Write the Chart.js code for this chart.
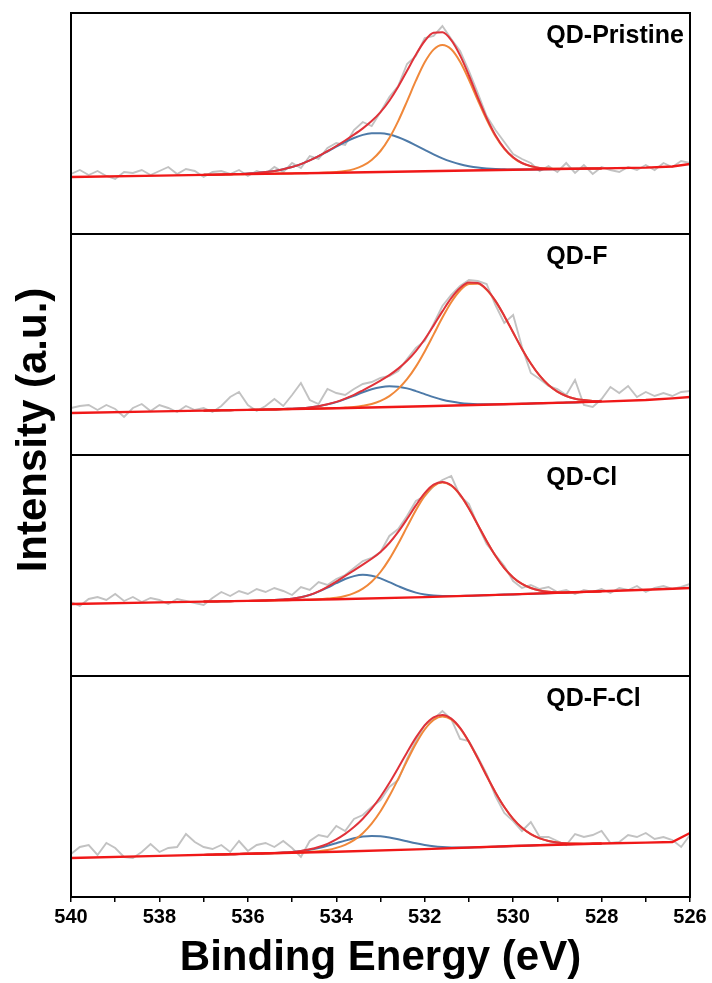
<!DOCTYPE html>
<html>
<head>
<meta charset="utf-8">
<title>O 1s XPS fits</title>
<script src="https://cdn.jsdelivr.net/npm/chart.js@4.4.1/dist/chart.umd.min.js"></script>
<style>
  html, body { margin: 0; padding: 0; background: #fff; }
  #wrap { width: 712px; height: 983px; }
</style>
</head>
<body>
<div id="wrap"><canvas id="xps" width="712" height="983"></canvas></div>
<script>
// binding energy grids (eV)
const scanE = [540.0,539.8,539.6,539.4,539.2,539.0,538.8,538.6,538.4,538.2,538.0,537.8,537.6,537.4,537.2,
  537.0,536.8,536.6,536.4,536.2,536.0,535.8,535.6,535.4,535.2,
  535.0,534.8,534.6,534.4,534.2,534.0,533.8,533.6,533.4,533.2,
  533.0,532.8,532.6,532.4,532.2,532.0,531.8,531.6,531.4,531.2,
  531.0,530.8,530.6,530.4,530.2,530.0,529.8,529.6,529.4,529.2,
  529.0,528.8,528.6,528.4,528.2,528.0,527.8,527.6,527.4,527.2,
  527.0,526.8,526.6,526.4,526.2,526.0];
const fitE = [537.0,536.8,536.6,536.4,536.2,536.0,535.8,535.6,535.4,535.2,
  535.0,534.8,534.6,534.4,534.2,534.0,533.8,533.6,533.4,533.2,
  533.0,532.8,532.6,532.4,532.2,532.0,531.8,531.6,531.4,531.2,
  531.0,530.8,530.6,530.4,530.2,530.0,529.8,529.6,529.4,529.2,
  529.0,528.8,528.6,528.4,528.2,528.0];
const bgE = [540, 538, 536, 534, 532, 530, 528, 527, 526.4, 526];

const panelNames = ['QD-Pristine', 'QD-F', 'QD-Cl', 'QD-F-Cl'];

// QD-Pristine
const rawPristine = [60,64,59,63,58,55,62,61,64,59,63,67,60,65,63,
  57,62,63,60,64,58,63,60,67,62,
  71,66,78,75,86,91,89,104,112,108,
  122,137,148,170,178,196,198,208,195,183,
  163,141,118,104,92,80,75,71,63,68,
  62,71,61,69,60,67,64,62,67,64,
  69,64,71,67,73,71];
const bgPristine = [57,58.4,59.9,61.3,62.8,64.2,65.6,66.4,67.5,70];
const bluePristine = [59.2,59.3,59.5,59.8,60.0,60.5,61.0,61.9,63.1,64.8,
  67.0,69.9,73.6,77.8,82.5,87.3,92.0,96.0,99.1,100.7,
  100.8,99.5,96.7,93.0,88.6,84.1,79.7,75.7,72.4,69.7,
  67.8,66.4,65.5,64.9,64.7,64.5,64.5,64.6,64.6,64.8,
  64.9,65.1,65.2,65.4,65.5,65.6];
const orangePristine = [59.2,59.3,59.4,59.6,59.7,59.9,60.0,60.2,60.3,60.5,
  60.6,60.7,60.9,61.1,61.5,62.0,63.0,64.9,68.3,74.1,
  83.0,96.0,112.9,132.7,153.3,171.7,184.4,189.0,184.7,172.2,
  154.2,133.8,114.4,97.7,85.1,76.4,70.8,67.8,66.1,65.4,
  65.2,65.2,65.2,65.4,65.5,65.6];
const envPristine = [59.2,59.3,59.5,59.8,60.0,60.5,61.0,61.9,63.1,64.8,
  67.0,69.9,73.6,77.9,82.8,88.0,93.5,99.3,105.6,112.9,
  121.8,133.3,147.3,163.2,179.3,193.0,201.2,201.7,193.9,178.6,
  158.5,136.6,116.1,98.7,85.7,76.7,71.0,67.9,66.1,65.4,
  65.2,65.2,65.2,65.4,65.5,65.6];

// QD-F
const rawF = [47,49,50,45,50,46,38,47,51,44,50,47,43,49,45,
  47,43,49,58,63,50,44,49,56,49,
  60,72,55,51,66,62,60,66,71,73,
  77,79,84,96,107,114,131,149,160,169,
  175,174,171,150,132,140,108,82,76,69,
  66,60,75,50,48,56,68,62,69,58,
  63,59,62,59,63,64];
const bgF = [42,43.6,45.1,46.7,48.7,51.0,53.4,55.0,56.6,58];
const blueF = [44.3,44.5,44.7,44.8,45.0,45.1,45.3,45.4,45.6,46.0,
  46.3,46.8,47.6,48.8,50.6,52.9,55.9,59.2,62.7,65.7,
  67.8,68.7,68.3,66.6,63.9,60.9,57.9,55.3,53.4,52.0,
  51.2,50.8,50.7,50.7,50.8,51.0,51.2,51.5,51.7,51.9,
  52.2,52.4,52.6,52.9,53.1,53.4];
const orangeF = [44.3,44.5,44.7,44.8,45.0,45.1,45.3,45.4,45.6,45.8,
  45.9,46.1,46.2,46.4,46.7,46.9,47.4,48.0,49.2,51.0,
  54.1,58.9,66.1,75.8,88.4,103.6,120.4,137.4,152.8,164.5,
  171.0,171.3,165.2,153.9,139.1,122.5,106.1,91.5,79.3,70.0,
  63.4,59.0,56.3,54.9,54.1,53.9];
const envF = [44.3,44.5,44.7,44.8,45.0,45.1,45.3,45.4,45.6,46.0,
  46.3,46.8,47.6,48.8,50.7,53.1,56.4,60.2,64.7,69.4,
  74.4,79.9,86.4,94.2,103.9,115.8,129.4,143.6,156.8,166.9,
  172.4,172.0,165.6,154.1,139.1,122.5,106.1,91.5,79.3,70.0,
  63.4,59.0,56.3,54.9,54.1,53.9];

// QD-Cl
const rawCl = [74,70,77,79,76,82,75,79,74,78,76,72,77,75,73,
  71,78,84,80,85,82,87,84,88,85,
  81,89,86,94,91,97,101,108,115,118,
  124,140,147,160,175,180,190,196,200,180,
  172,151,132,121,110,95,88,91,87,89,
  84,86,82,86,84,87,83,88,86,90,
  84,88,90,87,89,92];
const bgCl = [72,73.6,75.1,76.7,78.9,81.6,84.7,86.3,87.3,88];
const blueCl = [74.4,74.5,74.7,74.8,75.0,75.1,75.3,75.6,75.9,76.5,
  77.3,78.8,81.0,84.3,88.4,92.8,97.0,99.9,101.2,100.2,
  97.6,93.9,89.9,86.2,83.4,81.6,80.6,80.1,80.0,80.1,
  80.3,80.5,80.8,81.1,81.4,81.6,81.9,82.2,82.5,82.7,
  83.0,83.3,83.7,84.0,84.3,84.7];
const orangeCl = [74.4,74.5,74.7,74.8,75.0,75.1,75.3,75.5,75.6,75.8,
  75.9,76.1,76.3,76.7,77.4,78.3,80.0,82.8,87.4,94.3,
  104.0,116.9,132.3,149.1,165.8,180.1,189.9,193.4,190.4,181.2,
  167.5,151.3,135.0,120.2,107.9,98.6,92.1,88.0,85.6,84.3,
  83.8,83.6,83.8,84.0,84.3,84.7];
const envCl = [74.4,74.5,74.7,74.8,75.0,75.1,75.3,75.6,75.9,76.5,
  77.3,78.8,81.1,84.6,89.2,94.4,100.1,105.7,111.4,117.2,
  124.1,133.0,144.1,157.0,170.6,182.8,191.3,194.1,190.7,181.3,
  167.5,151.3,135.0,120.2,107.9,98.6,92.1,88.0,85.6,84.3,
  83.8,83.6,83.8,84.0,84.3,84.7];

// QD-F-Cl
const rawFCl = [43,50,52,42,54,49,40,39,45,53,45,49,50,63,55,
  50,48,52,45,56,46,52,54,50,56,
  49,40,56,62,60,71,66,78,82,90,
  97,110,117,138,156,172,178,186,178,158,
  156,140,123,101,84,76,66,75,60,60,
  56,52,63,60,62,66,54,55,62,60,
  64,58,60,57,50,62];
const bgFCl = [39,41.1,43.2,45.3,47.9,51.0,53.5,54.4,55,64];
const blueFCl = [42.1,42.3,42.5,42.7,43.0,43.2,43.4,43.7,44.0,44.4,
  45.0,45.9,47.2,49.0,51.2,53.8,56.4,58.7,60.4,61.1,
  60.8,59.6,57.8,55.7,53.7,52.1,50.8,50.0,49.6,49.5,
  49.6,49.8,50.0,50.3,50.6,51.0,51.3,51.6,51.9,52.2,
  52.5,52.7,52.9,53.1,53.3,53.5];
const orangeFCl = [42.1,42.3,42.5,42.7,43.0,43.2,43.4,43.6,43.8,44.0,
  44.3,44.6,45.1,45.8,47.0,49.1,52.2,56.9,63.8,73.3,
  85.7,100.9,118.1,136.1,153.2,167.5,177.0,180.5,177.6,168.7,
  155.1,138.6,121.2,104.6,90.0,78.2,69.2,62.8,58.6,56.0,
  54.5,53.7,53.4,53.3,53.4,53.5];
const envFCl = [42.1,42.3,42.5,42.7,43.0,43.2,43.4,43.7,44.0,44.4,
  45.1,46.1,47.7,50.0,53.2,57.6,63.1,69.9,78.3,88.3,
  100.2,113.9,129.0,144.6,159.4,171.7,179.6,182.0,178.4,169.1,
  155.3,138.7,121.2,104.6,90.0,78.2,69.2,62.8,58.6,56.0,
  54.5,53.7,53.4,53.3,53.4,53.5];

const FONT = '"Liberation Sans", Arial, Helvetica, sans-serif';
Chart.defaults.font.family = FONT;
Chart.defaults.color = '#000';

const panels = [
  { axis: 'yA', weight: 4, raw: rawPristine, bg: bgPristine, blue: bluePristine, orange: orangePristine, env: envPristine },
  { axis: 'yB', weight: 3, raw: rawF, bg: bgF, blue: blueF, orange: orangeF, env: envF },
  { axis: 'yC', weight: 2, raw: rawCl, bg: bgCl, blue: blueCl, orange: orangeCl, env: envCl },
  { axis: 'yD', weight: 1, raw: rawFCl, bg: bgFCl, blue: blueFCl, orange: orangeFCl, env: envFCl }
];

function pts(xs, ys) {
  return xs.map((x, i) => ({ x: x, y: ys[i] }));
}

const datasets = [];
panels.forEach((p, i) => {
  const name = panelNames[i];
  datasets.push({ label: name + ' background', data: pts(bgE, p.bg), yAxisID: p.axis,
    borderColor: '#f01818', borderWidth: 2.4, tension: 0, order: 1 });
  datasets.push({ label: name + ' envelope', data: pts(fitE, p.env), yAxisID: p.axis,
    borderColor: '#e0323a', borderWidth: 2, cubicInterpolationMode: 'monotone', order: 2 });
  datasets.push({ label: name + ' peak 1', data: pts(fitE, p.orange), yAxisID: p.axis,
    borderColor: '#f0883a', borderWidth: 2, cubicInterpolationMode: 'monotone', order: 3 });
  datasets.push({ label: name + ' peak 2', data: pts(fitE, p.blue), yAxisID: p.axis,
    borderColor: '#4d7aa8', borderWidth: 2, cubicInterpolationMode: 'monotone', order: 4 });
  datasets.push({ label: name + ' raw', data: pts(scanE, p.raw), yAxisID: p.axis,
    borderColor: '#c2c2c2', borderWidth: 1.9, tension: 0, order: 5 });
});

const scales = {
  x: {
    type: 'linear',
    position: 'bottom',
    reverse: true,
    min: 526,
    max: 540,
    ticks: {
      stepSize: 1,
      autoSkip: false,
      maxRotation: 0,
      padding: 3,
      font: { size: 20, weight: 'bold' },
      callback: (v) => (v % 2 === 0 ? v : '')
    },
    grid: { drawOnChartArea: false, drawTicks: true, tickLength: 5, color: '#000', lineWidth: 1.5 },
    border: { display: true, color: '#000', width: 2 },
    title: {
      display: true,
      text: 'Binding Energy (eV)',
      font: { size: 42, weight: 'bold', lineHeight: 1 },
      padding: { top: 5, bottom: 0 }
    }
  }
};
panels.forEach(p => {
  scales[p.axis] = {
    type: 'linear',
    position: 'left',
    stack: 'spectra',
    stackWeight: 1,
    weight: p.weight,
    min: 0,
    max: 221,
    ticks: { display: false },
    grid: { display: false, drawTicks: false },
    border: { display: false }
  };
});

// panel frames, sample names and the shared y title
const labelE = 529.25;
const labelY = 191;
const framePlugin = {
  id: 'framePlugin',
  afterDatasetsDraw(chart) {
    const { ctx, chartArea, scales: s } = chart;
    ctx.save();
    ctx.strokeStyle = '#000';
    ctx.lineWidth = 2;
    ctx.fillStyle = '#000';
    ctx.font = 'bold 25px ' + FONT;
    ctx.textAlign = 'left';
    ctx.textBaseline = 'alphabetic';
    panels.forEach((p, i) => {
      const sc = s[p.axis];
      ctx.strokeRect(chartArea.left, sc.top, chartArea.right - chartArea.left, sc.bottom - sc.top);
      ctx.fillText(panelNames[i], s.x.getPixelForValue(labelE), sc.getPixelForValue(labelY));
    });
    ctx.translate(chartArea.left - 37, chartArea.top + 417);
    ctx.rotate(-Math.PI / 2);
    ctx.textAlign = 'center';
    ctx.textBaseline = 'middle';
    ctx.font = 'bold 42px ' + FONT;
    ctx.fillText('Intensity (a.u.)', 0, 0);
    ctx.restore();
  }
};

new Chart(document.getElementById('xps'), {
  type: 'line',
  data: { datasets: datasets },
  options: {
    responsive: false,
    animation: false,
    events: [],
    layout: { padding: { left: 71, right: 22, top: 13, bottom: 4 } },
    elements: { point: { radius: 0 }, line: { fill: false } },
    plugins: { legend: { display: false }, tooltip: { enabled: false } },
    scales: scales
  },
  plugins: [framePlugin]
});
</script>
</body>
</html>
